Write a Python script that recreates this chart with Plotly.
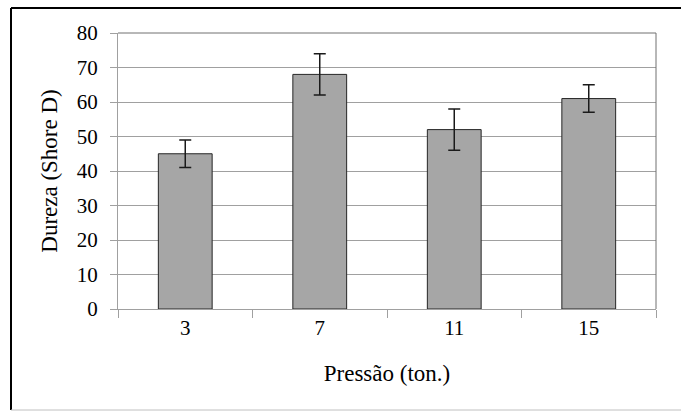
import plotly.graph_objects as go

categorias = ["3", "7", "11", "15"]
dureza = [45, 68, 52, 61]
erro = [4, 6, 6, 4]
y_ticks = [0, 10, 20, 30, 40, 50, 60, 70, 80]

FONT = "Liberation Serif"

W, H = 681, 411
L, R, T, B = 118, 25, 33, 102
PW, PH = W - L - R, H - T - B

def px(x):
    return (x - L) / PW

def py(y):
    return (H - B - y) / PH

fig = go.Figure()
fig.add_trace(go.Bar(
    x=categorias,
    y=dureza,
    width=0.4,
    marker=dict(color="#a6a6a6", line=dict(color="#262626", width=1)),
    error_y=dict(type="data", array=erro, visible=True, color="#1a1a1a",
                 thickness=1.5, width=6),
    showlegend=False,
))

fig.update_layout(
    width=W, height=H,
    margin=dict(l=L, r=R, t=T, b=B),
    paper_bgcolor="white",
    plot_bgcolor="white",
    font=dict(family=FONT, size=21, color="black"),
    xaxis=dict(
        type="category",
        tickson="boundaries",
        ticks="outside", ticklen=8, tickcolor="#a0a0a0", tickwidth=1,
        showline=True, linecolor="#a0a0a0", linewidth=1,
        showgrid=False,
        tickfont=dict(family=FONT, size=21),
        title=dict(text="Pressão (ton.)", font=dict(family=FONT, size=23), standoff=25),
    ),
    yaxis=dict(
        range=[0, 80],
        tickvals=y_ticks,
        ticks="outside", ticklen=7, tickcolor="#a0a0a0", tickwidth=1,
        showline=True, linecolor="#a0a0a0", linewidth=1,
        showgrid=True, gridcolor="#a0a0a0", gridwidth=1,
        zeroline=False,
        ticklabelstandoff=8,
        tickfont=dict(family=FONT, size=21),
        title=dict(text="Dureza (Shore D)", font=dict(family=FONT, size=23), standoff=12),
    ),
    shapes=[
        dict(type="line", xref="paper", yref="paper", x0=0, x1=1, y0=1, y1=1,
             line=dict(color="#707070", width=1), layer="above"),
        dict(type="line", xref="paper", yref="paper", x0=1, x1=1, y0=0, y1=1,
             line=dict(color="#707070", width=1), layer="above"),
        dict(type="line", xref="paper", yref="paper", x0=px(11), x1=px(W + 5), y0=py(8), y1=py(8),
             line=dict(color="black", width=2)),
        dict(type="line", xref="paper", yref="paper", x0=px(11), x1=px(11), y0=py(410), y1=py(8),
             line=dict(color="black", width=2)),
        dict(type="line", xref="paper", yref="paper", x0=px(11), x1=px(W + 5), y0=py(410), y1=py(410),
             line=dict(color="#c0c0c0", width=1)),
    ],
)

fig.write_html(
    "out.html",
    config={"displayModeBar": False},
    post_script="document.body.style.margin='0';document.body.style.overflow='hidden';",
)
